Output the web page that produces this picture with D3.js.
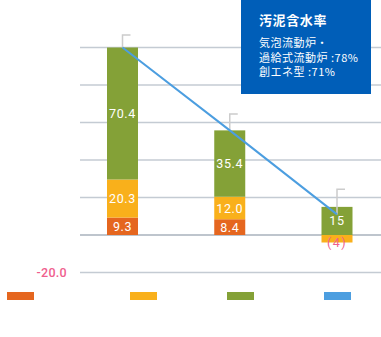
<!DOCTYPE html>
<html><head><meta charset="utf-8">
<script src="https://cdn.jsdelivr.net/npm/d3@7"></script>
<style>html,body{margin:0;padding:0;background:#fff;}svg{display:block;}</style>
</head><body><svg id="c" width="381" height="337"></svg>
<script>
const categories = ["気泡流動炉", "過給式流動炉", "創エネ型"];
const seriesNames = ["s1", "s2", "s3", "total"];
const s1 = [9.3, 8.4, 0];
const s2 = [20.3, 12.0, -4];
const s3 = [70.4, 35.4, 15];
const totals = [100, 55.8, 11];
const caps = [106.7, 64.5, 24.4];
const yTicks = [-20, 0, 20, 40, 60, 80, 100];
const tickLabels = ["-20.0"];
const boxTitle = "汚泥含水率";
const boxLines = ["気泡流動炉・", "過給式流動炉 :78%", "創エネ型 :71%"];

const colors = {s1: "#e5661f", s2: "#f9b01b", s3: "#84a137", total: "#4c9ee0"};
const svg = d3.select("#c");
const font = "Roboto, 'Noto Sans CJK JP', sans-serif";

const x = d3.scalePoint().domain(categories).range([122.5, 337]);
const y = d3.scaleLinear().domain([-20, 100]).range([272.5, 47.5]);
const bw = 31;

// gridlines
svg.append("g").selectAll("line").data(yTicks).join("line")
  .attr("x1", 80).attr("x2", 381)
  .attr("y1", d => y(d)).attr("y2", d => y(d))
  .attr("stroke", d => d === 0 ? "#a9b2bc" : "#c4cbd3").attr("stroke-width", 1.6);

// tick label (-20.0)
svg.append("text").attr("x", 67).attr("y", y(-20)).attr("dy", "0.36em")
  .attr("text-anchor", "end").attr("fill", "#f0608e")
  .attr("font-family", font).attr("font-size", 12.5).attr("font-weight", 500)
  .attr("letter-spacing", 0.3)
  .text(tickLabels[0]);

// stacked data
const table = categories.map((c, i) => ({cat: c, s1: s1[i], s2: s2[i], s3: s3[i]}));
const stack = d3.stack().keys(["s1", "s2", "s3"]).offset(d3.stackOffsetDiverging);
const layers = stack(table);

const gBars = svg.append("g");
layers.forEach(layer => {
  gBars.selectAll(null).data(layer.filter(d => d[1] !== d[0])).join("rect")
    .attr("x", d => x(d.data.cat) - bw / 2)
    .attr("width", bw)
    .attr("y", d => y(Math.max(d[0], d[1])))
    .attr("height", d => Math.abs(y(d[0]) - y(d[1])))
    .attr("fill", colors[layer.key]);
});

// caps
const gCaps = svg.append("g");
categories.forEach((c, i) => {
  gCaps.append("path")
    .attr("d", `M${x(c)},${y(totals[i])}V${y(caps[i])}H${x(c) + 8}`)
    .attr("fill", "none").attr("stroke", "#cccccc").attr("stroke-width", 1.5);
});

// line
svg.append("path").datum(totals)
  .attr("d", d3.line().x((d, i) => x(categories[i])).y(d => y(d)))
  .attr("fill", "none").attr("stroke", colors.total).attr("stroke-width", 2);

// labels
const gLab = svg.append("g");
layers.forEach(layer => {
  layer.filter(d => d[1] !== d[0]).forEach(d => {
    const v = d.data[layer.key];
    const neg = v < 0;
    gLab.append("text")
      .attr("x", x(d.data.cat))
      .attr("y", neg ? y(Math.min(d[0], d[1])) : (y(d[0]) + y(d[1])) / 2)
      .attr("dy", "0.36em")
      .attr("text-anchor", "middle")
      .attr("fill", neg ? "#f0608e" : "#ffffff")
      .attr("font-family", font).attr("font-size", 12.5)
      .attr("letter-spacing", neg ? 1.5 : 0.6)
      .text(neg ? `(${Math.abs(v)})` : (layer.key === "s3" && v === 15 ? "15" : v.toFixed(1)));
  });
});

// legend
const lx = d3.scaleOrdinal().domain(seriesNames).range([7, 130, 227, 324]);
svg.append("g").selectAll("rect").data(seriesNames).join("rect")
  .attr("x", d => lx(d)).attr("y", 292).attr("width", 27).attr("height", 8)
  .attr("fill", d => colors[d]);

// title box
const box = svg.append("g");
box.append("rect").attr("x", 241).attr("y", -2).attr("width", 130).attr("height", 96)
  .attr("fill", "#005eb8");
box.append("text").attr("x", 259).attr("y", 25).attr("fill", "#fff")
  .attr("font-family", "'Noto Sans CJK JP', sans-serif").attr("font-size", 13).attr("font-weight", 700)
  .attr("letter-spacing", 0.6)
  .text(boxTitle);
boxLines.forEach((t, i) => {
  box.append("text").attr("x", 259).attr("y", 47 + i * 14.5).attr("fill", "#fff")
    .attr("font-family", "'Noto Sans CJK JP', sans-serif").attr("font-size", 11)
    .attr("letter-spacing", 0.5)
    .text(t);
});
</script></body></html>
